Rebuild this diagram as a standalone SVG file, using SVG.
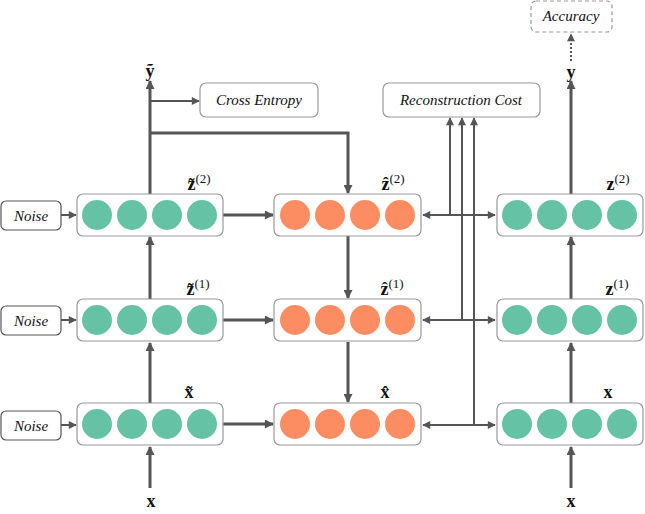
<svg xmlns="http://www.w3.org/2000/svg" width="645" height="514" viewBox="0 0 645 514">
<defs>
<style>
.box{fill:#fff;stroke:#999;stroke-width:1.2}
.nbox{fill:#fff;stroke:#555;stroke-width:1.2}
.g{fill:#66c2a5}
.o{fill:#fc8d62}
.it{font-family:"Liberation Serif",serif;font-style:italic;font-size:15px;fill:#111;text-anchor:middle}
.lb{font-family:"Liberation Serif",serif;font-weight:bold;font-size:18px;fill:#111;text-anchor:middle}
.sup{font-family:"Liberation Serif",serif;font-weight:normal;font-size:13px}
.thick{stroke:#555;stroke-width:3;fill:none}
.thin{stroke:#555;stroke-width:2;fill:none}
</style>
<marker id="ah" viewBox="0 0 10 10" refX="9" refY="5" markerWidth="3.6" markerHeight="3" orient="auto" markerUnits="strokeWidth">
<path d="M0,0 L10,5 L0,10 z" fill="#555"/>
</marker>
<marker id="as" viewBox="0 0 10 10" refX="9" refY="5" markerWidth="4.5" markerHeight="4" orient="auto" markerUnits="strokeWidth">
<path d="M0,0 L10,5 L0,10 z" fill="#555"/>
</marker>
<marker id="asr" viewBox="0 0 10 10" refX="1" refY="5" markerWidth="4.5" markerHeight="4" orient="auto" markerUnits="strokeWidth">
<path d="M10,0 L0,5 L10,10 z" fill="#555"/>
</marker>
</defs>

<g id="connectors">
<line class="thin" x1="61" y1="215" x2="76" y2="215" marker-end="url(#as)"/>
<line class="thin" x1="61" y1="320" x2="76" y2="320" marker-end="url(#as)"/>
<line class="thin" x1="61" y1="425" x2="76" y2="425" marker-end="url(#as)"/>
<line class="thick" x1="150" y1="488" x2="150" y2="447" marker-end="url(#ah)"/>
<line class="thick" x1="150" y1="403" x2="150" y2="343" marker-end="url(#ah)"/>
<line class="thick" x1="150" y1="299" x2="150" y2="237" marker-end="url(#ah)"/>
<line class="thick" x1="150" y1="194" x2="150" y2="81" marker-end="url(#ah)"/>
<line class="thin" x1="150" y1="101" x2="199" y2="101" marker-end="url(#as)"/>
<polyline class="thick" points="150,133 348,133 348,193" marker-end="url(#ah)"/>
<line class="thick" x1="223" y1="215" x2="273" y2="215" marker-end="url(#ah)"/>
<line class="thick" x1="223" y1="320" x2="273" y2="320" marker-end="url(#ah)"/>
<line class="thick" x1="223" y1="424" x2="273" y2="424" marker-end="url(#ah)"/>
<line class="thick" x1="348" y1="236" x2="348" y2="298" marker-end="url(#ah)"/>
<line class="thick" x1="348" y1="342" x2="348" y2="402" marker-end="url(#ah)"/>
<line class="thin" x1="423" y1="215" x2="495" y2="215" marker-start="url(#asr)" marker-end="url(#as)"/>
<line class="thin" x1="423" y1="320" x2="495" y2="320" marker-start="url(#asr)" marker-end="url(#as)"/>
<line class="thin" x1="423" y1="425" x2="495" y2="425" marker-start="url(#asr)" marker-end="url(#as)"/>
<line class="thin" x1="450" y1="215" x2="450" y2="118" marker-end="url(#as)"/>
<line class="thin" x1="462" y1="320" x2="462" y2="118" marker-end="url(#as)"/>
<line class="thin" x1="474" y1="425" x2="474" y2="118" marker-end="url(#as)"/>
<line class="thick" x1="571" y1="488" x2="571" y2="447" marker-end="url(#ah)"/>
<line class="thick" x1="571" y1="403" x2="571" y2="343" marker-end="url(#ah)"/>
<line class="thick" x1="571" y1="299" x2="571" y2="237" marker-end="url(#ah)"/>
<line class="thick" x1="571" y1="194" x2="571" y2="81" marker-end="url(#ah)"/>
<line stroke="#555" stroke-width="2" stroke-dasharray="2,2" x1="571" y1="61" x2="571" y2="34" marker-end="url(#as)"/>
</g>

<g id="noise1"><rect class="nbox" x="1" y="201" width="60" height="29" rx="5"/><text class="it" x="31" y="221">Noise</text></g>
<g id="noise2"><rect class="nbox" x="1" y="306" width="60" height="29" rx="5"/><text class="it" x="31" y="326">Noise</text></g>
<g id="noise3"><rect class="nbox" x="1" y="411" width="60" height="29" rx="5"/><text class="it" x="31" y="431">Noise</text></g>

<g id="enc2"><rect class="box" x="77" y="194" width="146" height="42" rx="6"/>
<circle class="g" cx="97" cy="215" r="15"/><circle class="g" cx="132" cy="215" r="15"/><circle class="g" cx="167" cy="215" r="15"/><circle class="g" cx="202" cy="215" r="15"/>
<text class="lb" x="199" y="190">z̃<tspan class="sup" dy="-7">(2)</tspan></text></g>
<g id="enc1"><rect class="box" x="77" y="299" width="146" height="42" rx="6"/>
<circle class="g" cx="97" cy="320" r="15"/><circle class="g" cx="132" cy="320" r="15"/><circle class="g" cx="167" cy="320" r="15"/><circle class="g" cx="202" cy="320" r="15"/>
<text class="lb" x="198" y="295">z̃<tspan class="sup" dy="-7">(1)</tspan></text></g>
<g id="enc0"><rect class="box" x="77" y="403" width="146" height="42" rx="6"/>
<circle class="g" cx="97" cy="424" r="15"/><circle class="g" cx="132" cy="424" r="15"/><circle class="g" cx="167" cy="424" r="15"/><circle class="g" cx="202" cy="424" r="15"/>
<text class="lb" x="189" y="398">x̃</text></g>

<g id="dec2"><rect class="box" x="274" y="194" width="147" height="42" rx="6"/>
<circle class="o" cx="295" cy="215" r="15"/><circle class="o" cx="330" cy="215" r="15"/><circle class="o" cx="365" cy="215" r="15"/><circle class="o" cx="400" cy="215" r="15"/>
<text class="lb" x="393" y="190">ẑ<tspan class="sup" dy="-7">(2)</tspan></text></g>
<g id="dec1"><rect class="box" x="274" y="299" width="147" height="42" rx="6"/>
<circle class="o" cx="295" cy="320" r="15"/><circle class="o" cx="330" cy="320" r="15"/><circle class="o" cx="365" cy="320" r="15"/><circle class="o" cx="400" cy="320" r="15"/>
<text class="lb" x="392" y="295">ẑ<tspan class="sup" dy="-7">(1)</tspan></text></g>
<g id="dec0"><rect class="box" x="274" y="403" width="147" height="42" rx="6"/>
<circle class="o" cx="295" cy="424" r="15"/><circle class="o" cx="330" cy="424" r="15"/><circle class="o" cx="365" cy="424" r="15"/><circle class="o" cx="400" cy="424" r="15"/>
<text class="lb" x="385" y="398">x̂</text></g>

<g id="clean2"><rect class="box" x="497" y="194" width="146" height="42" rx="6"/>
<circle class="g" cx="517" cy="215" r="15"/><circle class="g" cx="552" cy="215" r="15"/><circle class="g" cx="587" cy="215" r="15"/><circle class="g" cx="622" cy="215" r="15"/>
<text class="lb" x="618" y="190">z<tspan class="sup" dy="-7">(2)</tspan></text></g>
<g id="clean1"><rect class="box" x="497" y="299" width="146" height="42" rx="6"/>
<circle class="g" cx="517" cy="320" r="15"/><circle class="g" cx="552" cy="320" r="15"/><circle class="g" cx="587" cy="320" r="15"/><circle class="g" cx="622" cy="320" r="15"/>
<text class="lb" x="617" y="295">z<tspan class="sup" dy="-7">(1)</tspan></text></g>
<g id="clean0"><rect class="box" x="497" y="403" width="146" height="42" rx="6"/>
<circle class="g" cx="517" cy="424" r="15"/><circle class="g" cx="552" cy="424" r="15"/><circle class="g" cx="587" cy="424" r="15"/><circle class="g" cx="622" cy="424" r="15"/>
<text class="lb" x="608" y="398">x</text></g>

<g id="x-in-left"><text class="lb" x="151" y="507">x</text></g>
<g id="x-in-right"><text class="lb" x="571" y="507">x</text></g>
<g id="y-tilde"><text class="lb" x="150" y="77">ỹ</text></g>
<g id="y-out"><text class="lb" x="571" y="78">y</text></g>

<g id="cross-entropy"><rect class="box" x="200" y="83" width="118" height="34" rx="6"/><text class="it" x="259" y="105">Cross Entropy</text></g>
<g id="reconstruction-cost"><rect class="box" x="383" y="83" width="157" height="34" rx="6"/><text class="it" x="461" y="105">Reconstruction Cost</text></g>
<g id="accuracy"><rect class="box" x="531" y="1" width="81" height="31" rx="5" stroke-dasharray="4,3"/><text class="it" x="571" y="21" font-size="14">Accuracy</text></g>
</svg>
